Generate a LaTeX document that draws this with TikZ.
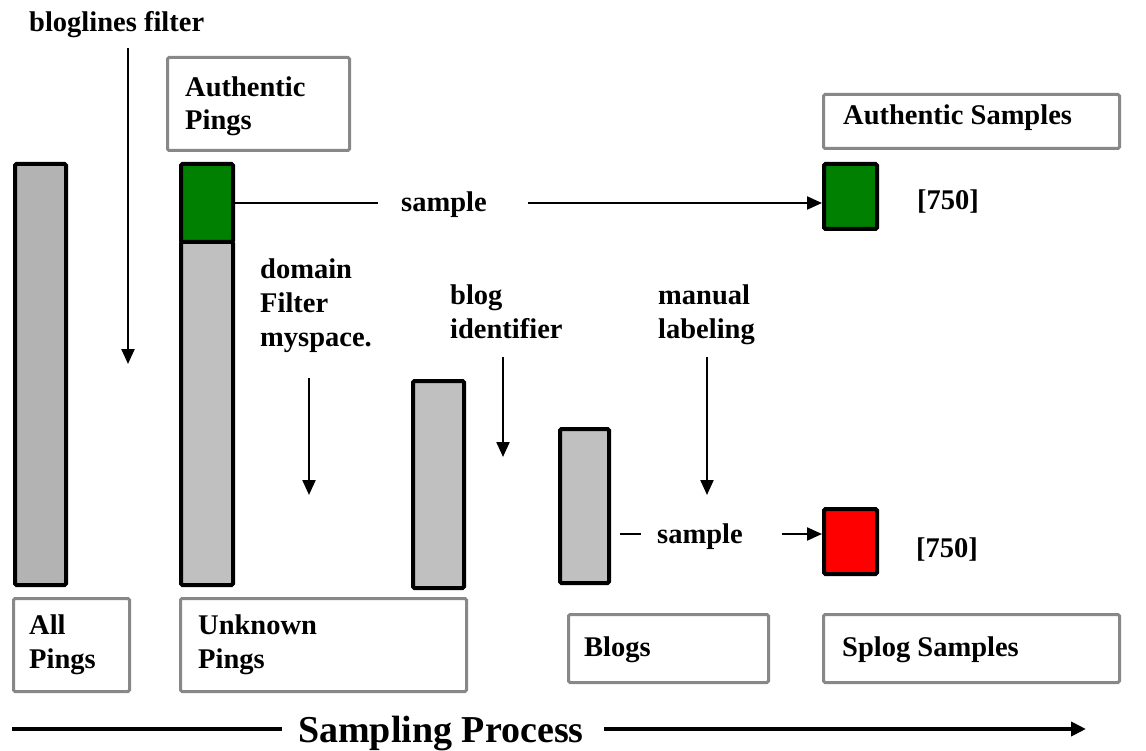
\documentclass[tikz,border=0pt]{standalone}
\usepackage{fontspec}
\setmainfont{Liberation Serif}
\usetikzlibrary{arrows.meta,calc}
\definecolor{barDark}{HTML}{B3B3B3}
\definecolor{barLight}{HTML}{C0C0C0}
\definecolor{frameGray}{HTML}{888888}
\definecolor{okGreen}{HTML}{008000}
\definecolor{spamRed}{HTML}{FF0000}
\begin{document}
\begin{tikzpicture}[x=1pt,y=-1pt,
  lbl/.style={font=\fontsize{28.5}{33.5}\selectfont\bfseries, inner sep=0pt, anchor=base west, align=left},
  bigLbl/.style={font=\fontsize{38}{42}\selectfont\bfseries, inner sep=0pt, anchor=base west},
  bar/.style={draw=black, line width=4pt, rounded corners=1.5pt, inner sep=0pt, anchor=north west},
  frame/.style={draw=frameGray, line width=3pt, rounded corners=1.5pt, inner sep=0pt, anchor=north west, fill=white},
  arr/.style={line width=2.2pt, -{Triangle[length=15pt,width=13pt]}},
  plain/.style={line width=2.2pt},
  thick line/.style={line width=4.5pt},
]
\useasboundingbox (0,0) rectangle (1146,751);

% caption boxes
\node[frame, minimum width=182, minimum height=93] (authPingsBox) at (166,56) {};
\node[frame, minimum width=296, minimum height=54] (authSamplesBox) at (822,93) {};
\node[frame, minimum width=116, minimum height=93] (allPingsBox) at (12,597) {};
\node[frame, minimum width=286, minimum height=93] (unkPingsBox) at (179,597) {};
\node[frame, minimum width=200, minimum height=68] (blogsBox) at (567,613) {};
\node[frame, minimum width=296, minimum height=68] (splogBox) at (822,613) {};

% bars
\node[bar, fill=barDark, minimum width=51, minimum height=421] (allBar) at (13,162) {};
\node[bar, fill=barLight, minimum width=52, minimum height=343] (unkBar) at (179,240) {};
\node[bar, fill=okGreen, minimum width=52, minimum height=78] (authBar) at (179,162) {};
\node[bar, fill=barLight, minimum width=51, minimum height=207] (domBar) at (411,379) {};
\node[bar, fill=barLight, minimum width=49, minimum height=154] (blogBar) at (558,427) {};
\node[bar, fill=okGreen, minimum width=53, minimum height=65] (greenSq) at (822,162) {};
\node[bar, fill=spamRed, minimum width=53, minimum height=65] (redSq) at (822,507) {};

% labels (multi-line labels are placed by the baseline of their last line)
\node[lbl] (blf) at (29,32) {bloglines filter};
\node[lbl] (authPingsTxt) at (185,130) {Authentic\\Pings};
\node[lbl] (authSamplesTxt) at (843,125) {Authentic Samples};
\node[lbl] (sampleA) at (401,212) {sample};
\node[lbl] (cntA) at (917,210) {[750]};
\node[lbl] (domTxt) at (260,346) {domain\\Filter\\myspace.};
\node[lbl] (blogIdTxt) at (450,338) {blog\\identifier};
\node[lbl] (manTxt) at (658,338) {manual\\labeling};
\node[lbl] (sampleB) at (657,543) {sample};
\node[lbl] (cntB) at (916,557) {[750]};
\node[lbl] (allPingsTxt) at (29,668) {All\\Pings};
\node[lbl] (unkPingsTxt) at (198,668) {Unknown\\Pings};
\node[lbl] (blogsTxt) at (584,656) {Blogs};
\node[lbl] (splogTxt) at (842,656) {Splog Samples};
\node[bigLbl] (procTxt) at (298,742) {Sampling Process};

% arrow end points
\coordinate (blfTop) at (128,48);
\coordinate (blfEnd) at (128,364);
\coordinate (domTop) at (309,378);
\coordinate (domEnd) at (309,495);
\coordinate (blogTop) at (503,357);
\coordinate (blogEnd) at (503,457);
\coordinate (manTop) at (707,357);
\coordinate (manEnd) at (707,495);
\coordinate (procStart) at (12,729);
\coordinate (procEnd) at (1086,729);

% filter steps
\draw[arr] (blfTop) -- (blfEnd);
\draw[arr] (domTop) -- (domEnd);
\draw[arr] (blogTop) -- (blogEnd);
\draw[arr] (manTop) -- (manEnd);

% sampling of authentic pings
\draw[plain] (authBar.east) -- ($(sampleA.west |- authBar.east)+(-23,0)$);
\draw[arr] ($(sampleA.east |- authBar.east)+(41,0)$) -- (greenSq.west |- authBar.east);

% sampling of splogs
\coordinate (sampleBMid) at (657,534);
\draw[plain] ($(blogBar.east |- sampleBMid)+(9,0)$) -- ($(sampleBMid)+(-16,0)$);
\draw[arr] ($(sampleB.east |- sampleBMid)+(39,0)$) -- (redSq.west |- sampleBMid);

% process timeline
\draw[thick line] (procStart) -- ($(procTxt.west |- procStart)+(-16,0)$);
\draw[thick line, -{Triangle[length=15pt,width=14pt]}] ($(procTxt.east |- procStart)+(20,0)$) -- (procEnd);
\end{tikzpicture}
\end{document}
